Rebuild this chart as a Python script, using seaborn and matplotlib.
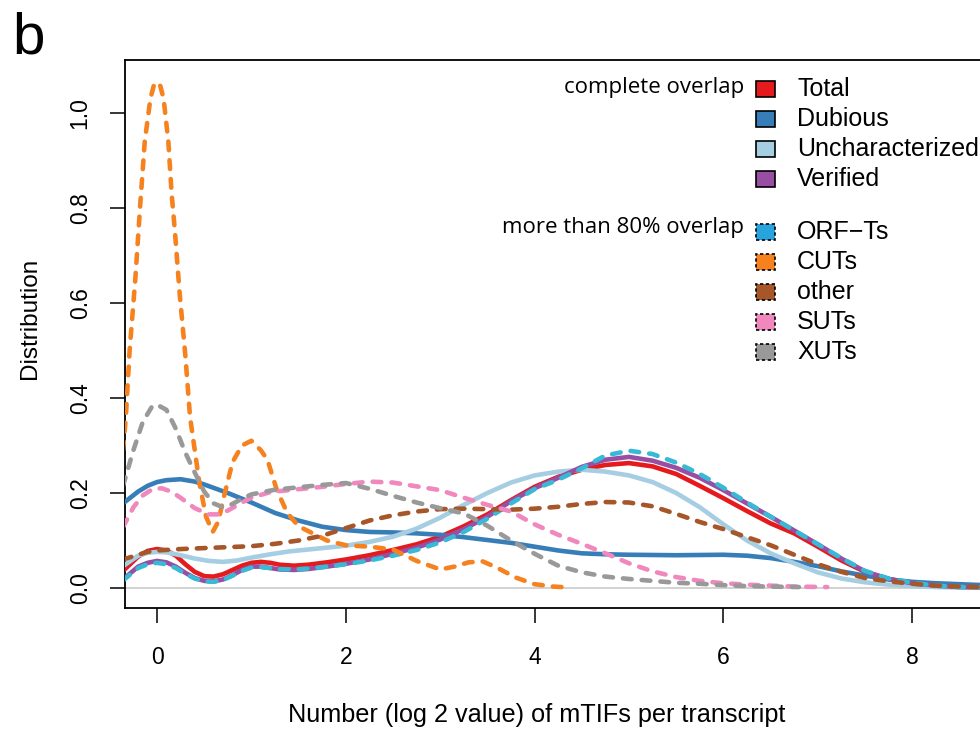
import matplotlib
matplotlib.use("Agg")
import matplotlib.pyplot as plt
from matplotlib.patches import Rectangle
import seaborn as sns

# ---- density curves: log2(number of mTIFs per transcript) ----
x_total = [-0.36, -0.2, -0.1, 0, 0.1, 0.2, 0.3, 0.4, 0.5, 0.6, 0.7, 0.8, 0.9, 1.0, 1.1, 1.2, 1.3, 1.45,
           1.6, 1.8, 2.0, 2.25, 2.5, 2.75, 3.0, 3.25, 3.5, 3.75, 4.0, 4.25, 4.5, 4.75, 5.0, 5.25, 5.5,
           5.75, 6.0, 6.25, 6.5, 6.75, 7.0, 7.25, 7.5, 7.75, 8.0, 8.25, 8.5, 8.9]
y_total = [0.036, 0.066, 0.078, 0.082, 0.079, 0.068, 0.05, 0.034, 0.025, 0.024, 0.029, 0.038, 0.047,
           0.053, 0.055, 0.053, 0.049, 0.047, 0.049, 0.054, 0.06, 0.069, 0.08, 0.092, 0.108, 0.13,
           0.155, 0.185, 0.213, 0.234, 0.249, 0.259, 0.263, 0.256, 0.24, 0.215, 0.189, 0.162, 0.136,
           0.115, 0.087, 0.058, 0.034, 0.019, 0.01, 0.005, 0.003, 0.001]

x_dubious = [-0.36, -0.2, -0.1, 0, 0.1, 0.25, 0.4, 0.5, 0.75, 1.0, 1.25, 1.5, 1.75, 2.0, 2.25, 2.5,
             2.75, 3.0, 3.25, 3.5, 3.75, 4.0, 4.25, 4.5, 4.75, 5.0, 5.5, 6.0, 6.25, 6.5, 6.75, 7.0,
             7.25, 7.5, 7.75, 8.0, 8.25, 8.5, 8.9]
y_dubious = [0.178, 0.203, 0.215, 0.223, 0.227, 0.229, 0.224, 0.218, 0.2, 0.18, 0.158, 0.142, 0.129,
             0.122, 0.118, 0.117, 0.115, 0.112, 0.107, 0.101, 0.095, 0.087, 0.079, 0.073, 0.071,
             0.07, 0.069, 0.07, 0.068, 0.063, 0.055, 0.046, 0.035, 0.026, 0.018, 0.013, 0.01, 0.008,
             0.005]

x_unchar = [-0.36, -0.2, -0.1, 0, 0.1, 0.25, 0.4, 0.55, 0.7, 0.85, 1.0, 1.2, 1.4, 1.6, 1.8, 2.0, 2.25,
            2.5, 2.75, 3.0, 3.25, 3.5, 3.75, 4.0, 4.25, 4.5, 4.75, 5.0, 5.25, 5.5, 5.75, 6.0, 6.25,
            6.5, 6.75, 7.0, 7.25, 7.5, 7.75, 8.0, 8.25, 8.5, 8.9]
y_unchar = [0.046, 0.068, 0.074, 0.076, 0.075, 0.069, 0.062, 0.057, 0.055, 0.058, 0.064, 0.071, 0.077,
            0.081, 0.085, 0.089, 0.097, 0.108, 0.125, 0.148, 0.175, 0.2, 0.222, 0.237, 0.245, 0.249,
            0.245, 0.237, 0.223, 0.2, 0.17, 0.134, 0.1, 0.073, 0.052, 0.033, 0.02, 0.012, 0.007,
            0.004, 0.002, 0.001, 0.0]

x_verified = x_total
y_verified = [0.018, 0.045, 0.053, 0.057, 0.054, 0.045, 0.032, 0.021, 0.015, 0.014, 0.018, 0.027,
              0.038, 0.045, 0.045, 0.042, 0.039, 0.038, 0.04, 0.045, 0.051, 0.06, 0.072, 0.085,
              0.102, 0.124, 0.15, 0.183, 0.21, 0.232, 0.255, 0.27, 0.276, 0.268, 0.253, 0.232,
              0.206, 0.178, 0.15, 0.121, 0.092, 0.062, 0.035, 0.019, 0.01, 0.005, 0.002, 0.001]

x_orfts = x_total
y_orfts = [0.016, 0.042, 0.05, 0.053, 0.05, 0.042, 0.03, 0.02, 0.014, 0.013, 0.017, 0.026, 0.036,
           0.043, 0.044, 0.042, 0.04, 0.039, 0.041, 0.045, 0.05, 0.058, 0.068, 0.08, 0.096, 0.118,
           0.146, 0.178, 0.208, 0.228, 0.252, 0.279, 0.289, 0.282, 0.264, 0.24, 0.211, 0.18, 0.15,
           0.121, 0.092, 0.063, 0.036, 0.02, 0.011, 0.005, 0.002, 0.001]

x_cuts = [-0.36, -0.33, -0.29, -0.23, -0.18, -0.13, -0.07, -0.035, 0, 0.035, 0.07, 0.12, 0.155, 0.19,
          0.24, 0.3, 0.35, 0.45, 0.52, 0.59, 0.65, 0.7, 0.8, 0.9, 1.0, 1.1, 1.17, 1.27, 1.38, 1.5,
          1.6, 1.8, 2.0, 2.25, 2.5, 2.75, 3.0, 3.15, 3.3, 3.45, 3.6, 3.8, 4.0, 4.2, 4.38]
y_cuts = [0.29, 0.36, 0.50, 0.65, 0.80, 0.94, 1.03, 1.057, 1.065, 1.057, 1.03, 0.94, 0.83, 0.75,
          0.62, 0.49, 0.36, 0.22, 0.15, 0.118, 0.14, 0.185, 0.265, 0.3, 0.31, 0.29, 0.27, 0.206,
          0.158, 0.13, 0.12, 0.1, 0.09, 0.087, 0.081, 0.057, 0.039, 0.045, 0.054, 0.056, 0.043,
          0.022, 0.008, 0.003, 0.001]

x_other = [-0.36, -0.2, -0.1, 0, 0.25, 0.5, 0.75, 1.0, 1.25, 1.5, 1.75, 2.0, 2.25, 2.5, 2.75, 3.0,
           3.25, 3.5, 3.75, 4.0, 4.25, 4.5, 4.75, 5.0, 5.25, 5.5, 5.75, 6.0, 6.25, 6.5, 6.75, 7.0,
           7.25, 7.5, 7.75, 8.0, 8.25, 8.5, 8.9]
y_other = [0.06, 0.07, 0.076, 0.079, 0.082, 0.084, 0.086, 0.088, 0.093, 0.1, 0.11, 0.126, 0.142,
           0.153, 0.161, 0.166, 0.167, 0.166, 0.165, 0.167, 0.171, 0.177, 0.181, 0.18, 0.172, 0.156,
           0.139, 0.124, 0.107, 0.09, 0.07, 0.05, 0.034, 0.021, 0.014, 0.009, 0.005, 0.003, 0.001]

x_suts = [-0.36, -0.25, -0.15, -0.05, 0.05, 0.15, 0.25, 0.4, 0.55, 0.65, 0.75, 0.9, 1.0, 1.2, 1.5,
          1.75, 2.0, 2.25, 2.5, 2.75, 3.0, 3.25, 3.5, 3.75, 4.0, 4.25, 4.5, 4.75, 5.0, 5.25, 5.5,
          5.75, 6.0, 6.25, 6.5, 6.75, 7.1]
y_suts = [0.128, 0.17, 0.195, 0.208, 0.21, 0.203, 0.19, 0.168, 0.155, 0.155, 0.163, 0.18, 0.19,
          0.202, 0.208, 0.213, 0.219, 0.224, 0.222, 0.214, 0.206, 0.19, 0.175, 0.161, 0.134, 0.112,
          0.093, 0.073, 0.052, 0.035, 0.023, 0.015, 0.01, 0.007, 0.005, 0.003, 0.002]

x_xuts = [-0.36, -0.25, -0.15, -0.05, 0, 0.1, 0.2, 0.3, 0.4, 0.5, 0.6, 0.7, 0.8, 0.9, 1.0, 1.25, 1.5,
          1.75, 2.0, 2.25, 2.5, 2.75, 3.0, 3.25, 3.5, 3.75, 4.0, 4.25, 4.5, 4.75, 5.0, 5.25, 5.5,
          5.75, 6.0, 6.25, 6.5, 6.8]
y_xuts = [0.215, 0.29, 0.35, 0.383, 0.386, 0.375, 0.335, 0.285, 0.243, 0.203, 0.178, 0.17, 0.177,
          0.188, 0.197, 0.207, 0.212, 0.217, 0.221, 0.209, 0.194, 0.18, 0.168, 0.157, 0.131, 0.1,
          0.072, 0.047, 0.033, 0.024, 0.019, 0.015, 0.011, 0.009, 0.006, 0.004, 0.003, 0.002]

complete_labels = ["Total", "Dubious", "Uncharacterized", "Verified"]
partial_labels = ["ORF\u2212Ts", "CUTs", "other", "SUTs", "XUTs"]

line_colors = {
    "Total": "#E41A1C", "Dubious": "#377EB8", "Uncharacterized": "#A6CEE3",
    "Verified": "#984EA3", "ORF\u2212Ts": "#38BAD6", "CUTs": "#F6821F",
    "other": "#A65628", "SUTs": "#F088BE", "XUTs": "#999999",
}
swatch_colors = dict(line_colors, **{"ORF\u2212Ts": "#27A4DD"})

series = [
    ("Total", x_total, y_total), ("Dubious", x_dubious, y_dubious),
    ("Uncharacterized", x_unchar, y_unchar), ("Verified", x_verified, y_verified),
    ("ORF\u2212Ts", x_orfts, y_orfts), ("CUTs", x_cuts, y_cuts),
    ("other", x_other, y_other), ("SUTs", x_suts, y_suts), ("XUTs", x_xuts, y_xuts),
]

sns.set_style("white")
plt.rcParams["font.family"] = ["Liberation Sans", "DejaVu Sans"]
plt.rcParams["text.color"] = "black"
plt.rcParams["axes.labelcolor"] = "black"
plt.rcParams["xtick.color"] = "black"
plt.rcParams["ytick.color"] = "black"

W, H = 980, 729
fig = plt.figure(figsize=(W / 100, H / 100), dpi=100)

# plot box: left edge at 125px, bottom 608px, top 60px; right edge runs past the figure
ax = fig.add_axes([125 / W, (H - 608) / H, (995 - 125) / W, (608 - 60) / H])
ax.set_xlim((125 - 157) / 94.4, (995 - 157) / 94.4)
ax.set_ylim((588 - 608) / 475, (588 - 60) / 475)

ax.axhline(0, color="#CFCFCF", lw=1.3, zorder=1)

for name, xs, ys in series:
    dashed = name in partial_labels
    kw = dict(linestyle=(0, (1.9, 2.2)), dash_capstyle="round") if dashed else dict(solid_capstyle="round")
    sns.lineplot(x=xs, y=ys, ax=ax, color=line_colors[name], lw=3.3, sort=False,
                 errorbar=None, zorder=3, **kw)

for side in ("left", "bottom", "top", "right"):
    ax.spines[side].set_color("black")
    ax.spines[side].set_linewidth(1.3)

ax.set_xticks([0, 2, 4, 6, 8])
ax.set_xticklabels(["0", "2", "4", "6", "8"])
ax.set_yticks([0, 0.2, 0.4, 0.6, 0.8, 1.0])
ax.set_yticklabels(["0.0", "0.2", "0.4", "0.6", "0.8", "1.0"], rotation=90, va="center")
ax.tick_params(axis="both", direction="out", length=11, width=1.1, color="black",
               labelsize=16.5, labelcolor="black")
ax.tick_params(axis="x", pad=16, bottom=True)
ax.tick_params(axis="y", pad=13, left=True)
ax.set_xlabel("")
ax.set_ylabel("")

fig.text(537 / W, (H - 715) / H, "Number (log 2 value) of mTIFs per transcript",
         ha="center", va="center", fontsize=18.2)
fig.text(30 / W, (H - 318) / H, "Distribution", rotation=90, ha="center", va="center",
         fontsize=17.5)
fig.text(12 / W, (H - 53) / H, "b", ha="left", va="baseline", fontsize=42)

# legend, drawn in figure pixels
rows_complete = [89, 119, 149, 179]
rows_partial = [232, 262, 292, 322, 352]
sw_x, sw_w, sw_h = 756, 19, 16
for labels, rows, dashed in ((complete_labels, rows_complete, False),
                             (partial_labels, rows_partial, True)):
    for lab, yc in zip(labels, rows):
        rect = Rectangle((sw_x / W, (H - yc - sw_h / 2) / H), sw_w / W, sw_h / H,
                         transform=fig.transFigure, facecolor=swatch_colors[lab],
                         edgecolor="black", lw=1.2, linestyle=(0, (2, 1.5)) if dashed else "-")
        fig.add_artist(rect)
        fig.text(797 / W, (H - yc) / H, lab, ha="left", va="center", fontsize=18)

fig.text(744 / W, (H - 88) / H, "complete overlap", ha="right", va="center",
         fontsize=16, family=["Open Sans", "DejaVu Sans"])
fig.text(744 / W, (H - 228) / H, "more than 80% overlap", ha="right", va="center",
         fontsize=16, family=["Open Sans", "DejaVu Sans"])

fig.savefig("out.png", dpi=100)
